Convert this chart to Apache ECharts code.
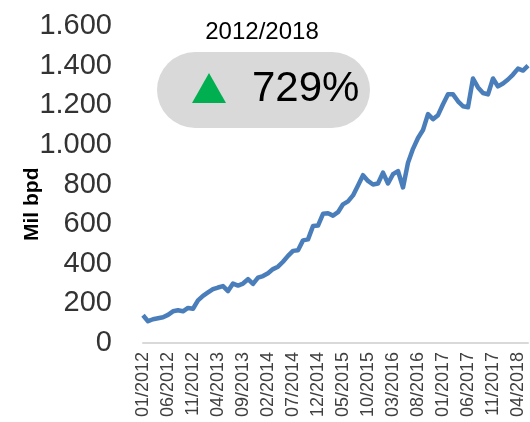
<!DOCTYPE html>
<html>
<head>
<meta charset="utf-8">
<script src="https://cdn.jsdelivr.net/npm/echarts@6/dist/echarts.min.js"></script>
<style>
html,body{margin:0;padding:0;background:#fff;}
#c{width:530px;height:422px;}
</style>
</head>
<body>
<div id="c"></div>
<script>
const months = [];
for (let y = 2012; y <= 2018; y++) {
  for (let m = 1; m <= 12; m++) {
    if (y === 2018 && m > 6) break;
    months.push((m < 10 ? '0' + m : '' + m) + '/' + y);
  }
}
const production = [
  140,110,120,125,130,142,160,165,160,177,
  173,215,238,255,272,280,287,262,300,290,
  300,322,298,330,338,352,373,385,410,440,
  465,468,518,523,590,593,652,655,643,660,
  700,715,745,795,847,818,800,805,860,805,
  852,868,785,910,980,1035,1075,1155,1130,1150,
  1205,1255,1255,1220,1195,1190,1335,1290,1262,1255,
  1335,1295,1310,1330,1355,1385,1375,1400
];
const yTicks = [0,200,400,600,800,1000,1200,1400,1600];
const periodLabel = '2012/2018';
const growthLabel = '729%';
const yName = 'Mil bpd';

const chart = echarts.init(document.getElementById('c'), null, {renderer: 'canvas'});
chart.setOption({
  animation: false,
  backgroundColor: '#fff',
  grid: {left: 143, right: 2, top: 26, bottom: 79},
  xAxis: {
    type: 'category',
    data: months,
    boundaryGap: false,
    axisLine: {lineStyle: {color: '#d9d9d9', width: 2}},
    axisTick: {show: false},
    axisLabel: {
      interval: 4, rotate: 90, margin: 9,
      fontFamily: 'Liberation Sans', fontSize: 18, color: '#404040'
    }
  },
  yAxis: {
    type: 'value',
    min: yTicks[0], max: yTicks[yTicks.length - 1], interval: 200,
    axisLine: {show: false},
    axisTick: {show: false},
    splitLine: {show: false},
    axisLabel: {
      margin: 31,
      fontFamily: 'Liberation Sans', fontSize: 29, color: '#333',
      formatter: v => v.toString().replace(/\B(?=(\d{3})+(?!\d))/g, '.')
    }
  },
  series: [{
    type: 'line',
    data: production,
    showSymbol: false,
    lineStyle: {color: '#4a7ebb', width: 4.5, join: 'round'}
  }],
  graphic: [
    {type: 'text', x: 22, y: 241, rotation: Math.PI / 2,
     style: {text: yName, font: 'bold 21px "Liberation Sans"', fill: '#000', textAlign: 'left', textVerticalAlign: 'top'}},
    {type: 'text', x: 262, y: 32, style: {text: periodLabel, font: '24px "Liberation Sans"', fill: '#000', textAlign: 'center', textVerticalAlign: 'middle'}},
    {type: 'rect', shape: {x: 157, y: 52, width: 213, height: 76, r: 38}, style: {fill: '#d9d9d9'}},
    {type: 'polygon', shape: {points: [[209, 73], [226, 103], [192, 103]]}, style: {fill: '#00b050'}},
    {type: 'text', x: 252, y: 89, style: {text: growthLabel, font: '42px "Liberation Sans"', fill: '#000', textAlign: 'left', textVerticalAlign: 'middle'}}
  ]
});
</script>
</body>
</html>
